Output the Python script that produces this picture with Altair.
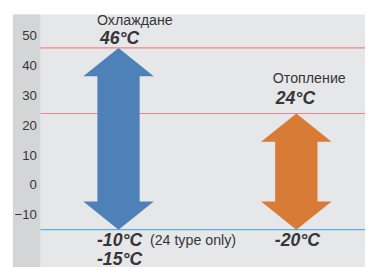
import altair as alt
import pandas as pd

# ---- data ----
arrow_names = ["Охлаждане", "Отопление"]
arrow_top = [46, 24]
arrow_bottom = [-15, -15]
arrow_center = [3, 8.05]
arrow_colors = ["#4f81b9", "#d77b37"]

red_levels = [46, 24]
blue_levels = [-15]

y_ticks = [50, 40, 30, 20, 10, 0, -10]

# ---- geometry helpers (styles) ----
HW, SW, HH, EPS = 1.0, 0.6, 9.5, 0.001
rows = []
for n, t, b, c in zip(arrow_names, arrow_top, arrow_bottom, arrow_center):
    pts = [
        (t, c, c),
        (t - HH, c - HW, c + HW),
        (t - HH - EPS, c - SW, c + SW),
        (b + HH + EPS, c - SW, c + SW),
        (b + HH, c - HW, c + HW),
        (b, c, c),
    ]
    for y, x1, x2 in pts:
        rows.append({"name": n, "y": y, "x": x1, "x2": x2})
poly = pd.DataFrame(rows)

W, H = 359, 265
ydom = [-30, 57.2]
xdom = [0, 10]
ysc = alt.Scale(domain=ydom, nice=False, zero=False)
xsc = alt.Scale(domain=xdom, nice=False, zero=False)
FONT = "Liberation Sans"
TXT = "#363636"

band = alt.Chart(pd.DataFrame({"a": [0]})).mark_rect(color="#d4d5d7").encode(
    x=alt.value(0), x2=alt.value(28), y=alt.value(0), y2=alt.value(H)
)

axis_layer = alt.Chart(pd.DataFrame({"v": y_ticks})).mark_point(opacity=0).encode(
    y=alt.Y("v:Q", scale=ysc, axis=alt.Axis(
        values=y_ticks, title=None, ticks=False, domain=False, grid=False,
        offset=-28, labelPadding=4, labelFont=FONT, labelFontSize=13.5,
        labelColor=TXT, labelFlush=False, zindex=1)),
    x=alt.value(20),
)

red = alt.Chart(pd.DataFrame({"v": red_levels})).mark_rule(color="#f08486", strokeWidth=1.2).encode(
    y=alt.Y("v:Q", scale=ysc), x=alt.value(28), x2=alt.value(W)
)
blue = alt.Chart(pd.DataFrame({"v": blue_levels})).mark_rule(color="#5aaee2", strokeWidth=1.2).encode(
    y=alt.Y("v:Q", scale=ysc), x=alt.value(28), x2=alt.value(W)
)

arrows = alt.Chart(poly).mark_area(orient="horizontal").encode(
    y=alt.Y("y:Q", scale=ysc),
    x=alt.X("x:Q", scale=xsc, axis=None),
    x2="x2:Q",
    color=alt.Color("name:N", scale=alt.Scale(domain=arrow_names, range=arrow_colors), legend=None),
)

ann = pd.DataFrame({
    "name": arrow_names,
    "top": arrow_top,
    "x": arrow_center,
    "topLabel": [f"{v}°C" for v in arrow_top],
})
BIG = dict(font=FONT, fontSize=18, fontWeight="bold", fontStyle="italic", color=TXT)
SMALL = dict(font=FONT, fontSize=14.5, color=TXT)

t1 = alt.Chart(ann.iloc[[0]]).mark_text(align="left", baseline="middle", dx=-22, dy=-27, **SMALL).encode(
    x=alt.X("x:Q", scale=xsc), y=alt.Y("top:Q", scale=ysc), text="name:N")
t2 = alt.Chart(ann.iloc[[1]]).mark_text(align="left", baseline="middle", dx=-24, dy=-35, **SMALL).encode(
    x=alt.X("x:Q", scale=xsc), y=alt.Y("top:Q", scale=ysc), text="name:N")
v1 = alt.Chart(ann.iloc[[0]]).mark_text(align="left", baseline="middle", dx=-19, dy=-9, **BIG).encode(
    x=alt.X("x:Q", scale=xsc), y=alt.Y("top:Q", scale=ysc), text="topLabel:N")
v2 = alt.Chart(ann.iloc[[1]]).mark_text(align="left", baseline="middle", dx=-21, dy=-15, **BIG).encode(
    x=alt.X("x:Q", scale=xsc), y=alt.Y("top:Q", scale=ysc), text="topLabel:N")

bottom_labels = pd.DataFrame({
    "x": [arrow_center[0], arrow_center[0], arrow_center[1]],
    "y": [blue_levels[0]] * 3,
    "t": ["-10°C", "-15°C", "-20°C"],
    "row": [0, 1, 0],
})
b1 = alt.Chart(bottom_labels[bottom_labels.row == 0]).mark_text(
    align="left", baseline="middle", dy=12, dx=-22, **BIG).encode(
    x=alt.X("x:Q", scale=xsc), y=alt.Y("y:Q", scale=ysc), text="t:N")
b2 = alt.Chart(bottom_labels[bottom_labels.row == 1]).mark_text(
    align="left", baseline="middle", dy=31, dx=-22, **BIG).encode(
    x=alt.X("x:Q", scale=xsc), y=alt.Y("y:Q", scale=ysc), text="t:N")
note = alt.Chart(pd.DataFrame({"x": [arrow_center[0]], "y": blue_levels, "t": ["(24 type only)"]})).mark_text(
    align="left", baseline="middle", dx=32, dy=12, **SMALL).encode(
    x=alt.X("x:Q", scale=xsc), y=alt.Y("y:Q", scale=ysc), text="t:N")

chart = alt.layer(band, red, blue, arrows, axis_layer, t1, t2, v1, v2, b1, b2, note).properties(
    width=W, height=H,
    autosize=alt.AutoSizeParams(type="none"),
    padding={"left": 5, "top": 4, "right": 0, "bottom": 0},
).configure_view(fill="#e6e7e9", stroke=None)

chart.save("out.html", embed_options={"renderer": "svg", "actions": False})
